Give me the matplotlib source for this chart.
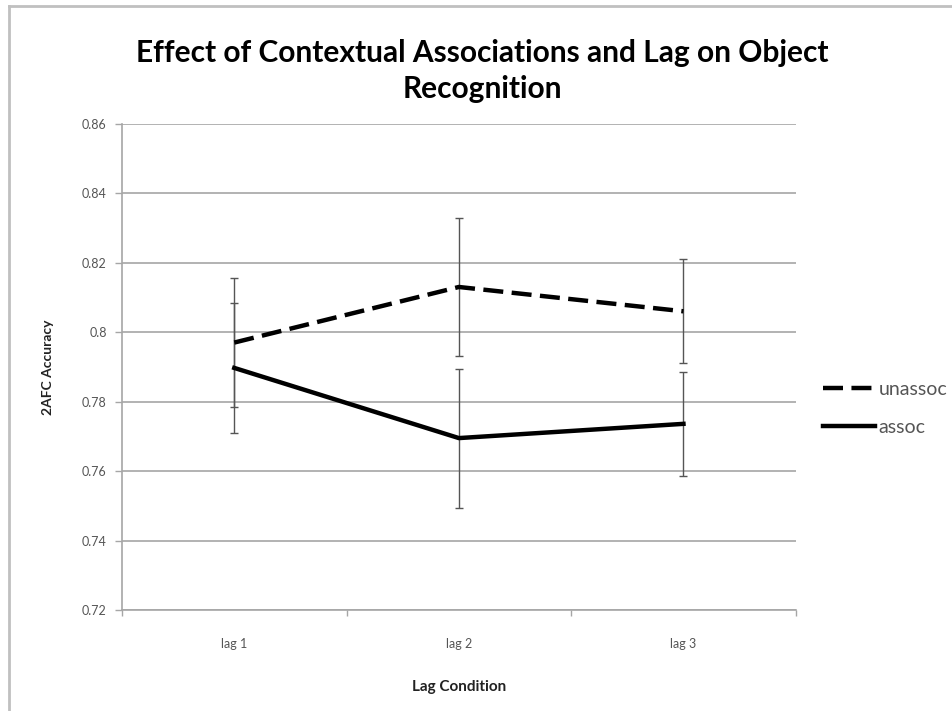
import numpy as np
import matplotlib.pyplot as plt
from matplotlib.lines import Line2D

plt.rcParams['font.family'] = ['Lato', 'DejaVu Sans']

lags = ['lag 1', 'lag 2', 'lag 3']
unassoc = [0.797, 0.813, 0.806]
unassoc_err = [0.0186, 0.020, 0.015]
assoc = [0.7897, 0.7695, 0.7736]
assoc_err = [0.0187, 0.020, 0.015]
yticks = [0.72, 0.74, 0.76, 0.78, 0.8, 0.82, 0.84, 0.86]
ylabels = ['0.72', '0.74', '0.76', '0.78', '0.8', '0.82', '0.84', '0.86']

fig = plt.figure(figsize=(9.53, 7.11), dpi=100)
ax = fig.add_axes([0.128, 0.142, 0.707, 0.684])

x = np.arange(len(lags))
grey = '#a6a6a6'

ax.errorbar(x, unassoc, yerr=unassoc_err, fmt='none', ecolor='#555555',
            elinewidth=1, capsize=3, capthick=1, zorder=3)
ax.errorbar(x, assoc, yerr=assoc_err, fmt='none', ecolor='#555555',
            elinewidth=1, capsize=3, capthick=1, zorder=3)
ax.plot(x, unassoc, color='black', lw=3.2, ls=(0, (4.5, 1.9)), label='unassoc', zorder=4)
ax.plot(x, assoc, color='black', lw=3.2, label='assoc', zorder=4)

ax.set_xlim(-0.5, 2.5)
ax.set_ylim(0.72, 0.86)
ax.set_yticks(yticks)
ax.set_yticklabels(ylabels)
ax.set_xticks(x)
ax.set_xticklabels(lags)
ax.set_xticks([-0.5, 0.5, 1.5, 2.5], minor=True)
ax.tick_params(axis='x', which='major', length=0, pad=20, labelsize=9, labelcolor='#555555')
ax.tick_params(axis='x', which='minor', length=4, width=1, color=grey, direction='out')
ax.tick_params(axis='y', length=5, width=1, color=grey, pad=6, labelsize=9, labelcolor='#555555')

ax.grid(axis='y', color=grey, lw=1.2)
ax.set_axisbelow(True)
for s in ['top', 'right']:
    ax.spines[s].set_visible(False)
for s in ['left', 'bottom']:
    ax.spines[s].set_color(grey)
    ax.spines[s].set_linewidth(1.2)

ax.set_xlabel('Lag Condition', fontsize=11, fontweight='bold', labelpad=22, color='#222222')
ax.set_ylabel('2AFC Accuracy', fontsize=10, fontweight='bold', labelpad=20, color='#222222')
fig.text(0.506, 0.9, 'Effect of Contextual Associations and Lag on Object\nRecognition',
         ha='center', va='center', fontsize=21.5, fontweight='bold', linespacing=1.32)

leg = ax.legend(loc='center left', bbox_to_anchor=(1.0, 0.415), frameon=False,
                handlelength=2.7, handletextpad=0.15, labelspacing=1.1, fontsize=14,
                borderaxespad=1.0)
for t in leg.get_texts():
    t.set_color('#555555')

# chart border (top and left edges)
fig.add_artist(Line2D([0.009, 1.0], [0.991, 0.991], color='#c0c0c0', lw=2, transform=fig.transFigure))
fig.add_artist(Line2D([0.009, 0.009], [0.0, 0.991], color='#c0c0c0', lw=2, transform=fig.transFigure))

fig.savefig('out.png', dpi=100)
